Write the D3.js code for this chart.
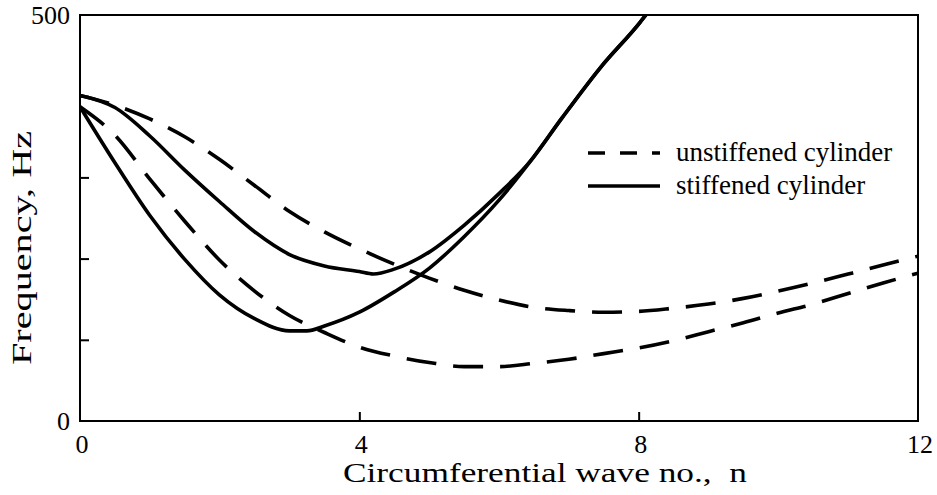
<!DOCTYPE html>
<html>
<head>
<meta charset="utf-8">
<script src="https://cdn.jsdelivr.net/npm/d3@7"></script>
<style>
  body { margin: 0; background: #fff; }
  text { font-family: "Liberation Serif", "Times New Roman", serif; fill: #000; }
</style>
</head>
<body>
<div id="chart"></div>
<script>
// values: [wave no. n, frequency Hz]
const unstiffenedUpper = [[0,401],[0.5,389],[1.0,372],[1.5,350],[2.0,322],[2.5,290],[3.0,258],[3.5,233],[4.0,212],[4.5,193],[5.0,176],[5.5,161],[6.0,149],[6.5,140],[7.0,136],[7.5,134],[8.0,135],[8.5,139],[9.0,144],[9.5,151],[10.0,160],[10.5,170],[11.0,181],[11.5,192],[12,203]];
const unstiffenedLower = [[0,387],[0.5,352],[1.0,298],[1.5,246],[2.0,198],[2.5,160],[3.0,130],[3.5,109],[4.0,91],[4.5,80],[5.0,72],[5.5,67],[6.0,67],[6.5,71],[7.0,76],[7.5,83],[8.0,90],[8.5,99],[9.0,110],[9.5,121],[10.0,133],[10.5,144],[11.0,157],[11.5,170],[12,182]];
const stiffenedUpper = [[0,401],[0.5,386],[1.0,351],[1.5,309],[2.0,270],[2.5,233],[3.0,205],[3.5,191],[4.0,184],[4.2,181],[4.5,187],[5.0,208],[5.5,241],[6.0,280],[6.45,320],[6.9,373],[7.45,435],[8.02,491],[8.12,502]];
const stiffenedLower = [[0,387],[0.5,318],[1.0,253],[1.5,199],[2.0,155],[2.5,126],[3.0,111],[3.25,111],[3.5,117],[4.0,134],[4.5,159],[5.0,188],[5.5,227],[6.0,272],[6.45,320],[6.9,373],[7.45,435],[8.02,491],[8.12,502]];

const xTicks = [0, 4, 8, 12];
const yMinor = [100, 200, 300, 400];
const yLabels = [0, 500];

const W = 937, H = 495;
const margin = { top: 15, right: 19, bottom: 74, left: 80 };

const svg = d3.select("#chart").append("svg")
    .attr("width", W)
    .attr("height", H);

const x = d3.scaleLinear().domain([0, 12]).range([margin.left, W - margin.right]);
const y = d3.scaleLinear().domain([0, 500]).range([H - margin.bottom, margin.top]);

svg.append("clipPath").attr("id", "plot")
  .append("rect")
    .attr("x", x(0)).attr("y", y(500))
    .attr("width", x(12) - x(0)).attr("height", y(0) - y(500));

const line = d3.line()
    .x(d => x(d[0]))
    .y(d => y(d[1]))
    .curve(d3.curveMonotoneX);

const curves = [
  { data: unstiffenedUpper, dash: "30,17" },
  { data: unstiffenedLower, dash: "30,17" },
  { data: stiffenedUpper, dash: null },
  { data: stiffenedLower, dash: null }
];

svg.append("g").attr("clip-path", "url(#plot)")
  .selectAll("path")
  .data(curves)
  .enter()
  .append("path")
    .attr("d", d => line(d.data))
    .attr("fill", "none")
    .attr("stroke", "#000")
    .attr("stroke-width", 3.6)
    .attr("stroke-dasharray", d => d.dash);

// frame
svg.append("rect")
    .attr("x", x(0)).attr("y", y(500))
    .attr("width", x(12) - x(0)).attr("height", y(0) - y(500))
    .attr("fill", "none")
    .attr("stroke", "#000")
    .attr("stroke-width", 2);

// inward ticks
svg.append("g")
  .attr("transform", "translate(" + x(0) + ",0)")
  .call(d3.axisRight(y).tickValues(yMinor).tickSize(9).tickFormat(""))
  .call(g => g.select(".domain").remove())
  .call(g => g.selectAll("line").attr("stroke-width", 2));

svg.append("g")
  .attr("transform", "translate(0," + y(0) + ")")
  .call(d3.axisTop(x).tickValues([4, 8]).tickSize(9).tickFormat(""))
  .call(g => g.select(".domain").remove())
  .call(g => g.selectAll("line").attr("stroke-width", 2));

// tick labels
svg.selectAll(".ylab")
  .data(yLabels)
  .enter()
  .append("text")
    .attr("class", "ylab")
    .attr("x", x(0) - 10)
    .attr("y", d => y(d) + 9)
    .attr("text-anchor", "end")
    .style("font-size", "26px")
    .text(d => d);

svg.selectAll(".xlab")
  .data(xTicks)
  .enter()
  .append("text")
    .attr("class", "xlab")
    .attr("x", d => x(d) + 2)
    .attr("y", y(0) + 32)
    .attr("text-anchor", "middle")
    .style("font-size", "26px")
    .text(d => d);

// axis titles
svg.append("text")
    .attr("x", 343)
    .attr("y", 482)
    .attr("textLength", 404)
    .attr("lengthAdjust", "spacingAndGlyphs")
    .style("font-size", "27px")
    .style("white-space", "pre")
    .text("Circumferential wave no.,  n");

svg.append("text")
    .attr("transform", "translate(31,248) rotate(-90)")
    .attr("x", -117)
    .attr("textLength", 234)
    .attr("lengthAdjust", "spacingAndGlyphs")
    .style("font-size", "28px")
    .text("Frequency, Hz");

// legend
const legend = [
  { label: "unstiffened cylinder", dash: "17,15", y: 153 },
  { label: "stiffened cylinder", dash: null, y: 186 }
];

const lg = svg.append("g");
lg.selectAll("line")
  .data(legend)
  .enter()
  .append("line")
    .attr("x1", 588).attr("x2", 660)
    .attr("y1", d => d.y).attr("y2", d => d.y)
    .attr("stroke", "#000")
    .attr("stroke-width", 3.6)
    .attr("stroke-dasharray", d => d.dash);

lg.selectAll("text")
  .data(legend)
  .enter()
  .append("text")
    .attr("x", 676)
    .attr("y", d => d.y + 8)
    .style("font-size", "27px")
    .text(d => d.label);
</script>
</body>
</html>
